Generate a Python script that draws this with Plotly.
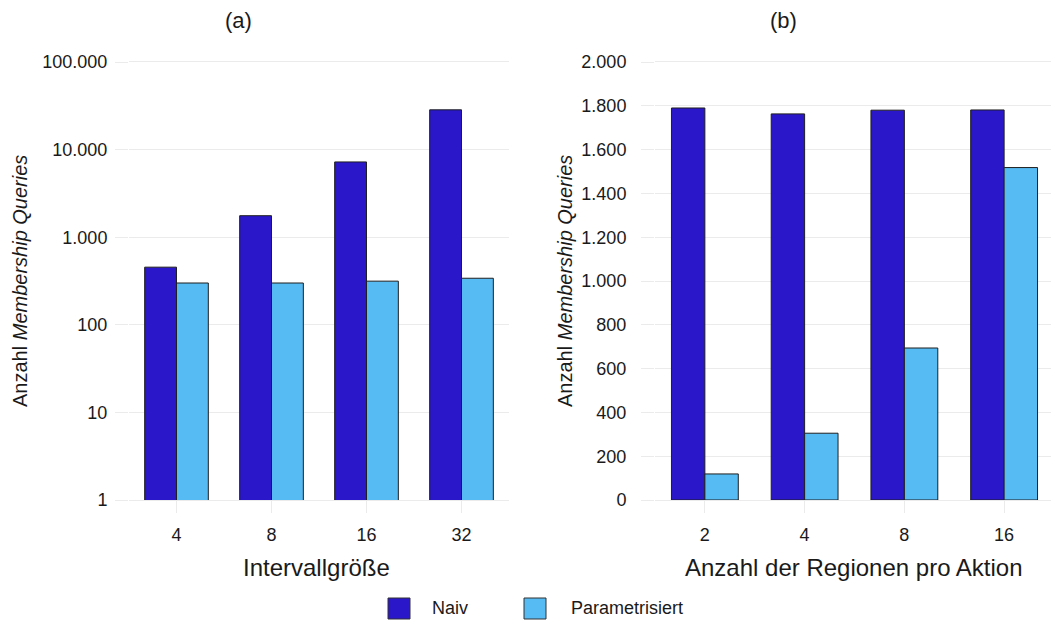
import plotly.graph_objects as go

# ---------------- data ----------------
cats_a = ["4", "8", "16", "32"]
naiv_a = [455, 1760, 7230, 28450]
param_a = [300, 300, 315, 340]

cats_b = ["2", "4", "8", "16"]
naiv_b = [1790, 1763, 1780, 1781]
param_b = [119, 305, 694, 1518]

yticks_a = [1, 10, 100, 1000, 10000, 100000]
yticklabels_a = ["1", "10", "100", "1.000", "10.000", "100.000"]
yticks_b = [0, 200, 400, 600, 800, 1000, 1200, 1400, 1600, 1800, 2000]
yticklabels_b = ["0", "200", "400", "600", "800", "1.000", "1.200", "1.400", "1.600", "1.800", "2.000"]

series_names = ["Naiv", "Parametrisiert"]
colors = ["#2A17C9", "#56BAF3"]

W, H = 1051, 621
FONT = "Liberation Sans, Arial, Helvetica, sans-serif"
GRID = "#EBEBEB"
TXT = "#1a1a1a"


def px(x):
    return x / W


def py(y):
    return (H - y) / H


fig = go.Figure()
for cats, vals, name, col, xa, ya in [
    (cats_a, naiv_a, series_names[0], colors[0], "x", "y"),
    (cats_a, param_a, series_names[1], colors[1], "x", "y"),
    (cats_b, naiv_b, series_names[0], colors[0], "x2", "y2"),
    (cats_b, param_b, series_names[1], colors[1], "x2", "y2"),
]:
    fig.add_trace(go.Bar(x=cats, y=vals, name=name, marker=dict(color=col, line=dict(color="#1f1f1f", width=1)),
                         xaxis=xa, yaxis=ya, showlegend=False))

ydom = [py(500), py(62)]
xcommon = dict(type="category", showgrid=False, zeroline=False, showline=True, linecolor=GRID, linewidth=1,
               mirror=True, ticks="outside", ticklen=12, tickcolor=GRID, tickwidth=1, automargin=False,
               tickfont=dict(family=FONT, size=18, color=TXT), ticklabelstandoff=6)
ycommon = dict(showgrid=True, gridcolor=GRID, gridwidth=1, zeroline=False, showline=False, automargin=False,
               ticks="outside", ticklen=13, tickcolor=GRID, tickwidth=1,
               tickfont=dict(family=FONT, size=18, color=TXT))

fig.update_layout(
    width=W, height=H,
    margin=dict(l=0, r=0, t=0, b=0, pad=0, autoexpand=False),
    paper_bgcolor="white", plot_bgcolor="white",
    barmode="group", bargap=0.33, bargroupgap=0,
    font=dict(family=FONT, color=TXT),
    xaxis=dict(domain=[px(129), px(509)], range=[-0.5, 3.5], anchor="y", **xcommon),
    yaxis=dict(domain=ydom, type="log", range=[0, 5], tickvals=yticks_a, ticktext=yticklabels_a,
               anchor="x", ticklabelstandoff=4, **ycommon),
    xaxis2=dict(domain=[px(655), 1.0], range=[-0.5, 3.47], anchor="y2", **xcommon),
    yaxis2=dict(domain=ydom, range=[0, 2000], tickvals=yticks_b, ticktext=yticklabels_b,
                anchor="x2", ticklabelstandoff=11, **ycommon),
)

ann = []
ann.append(dict(text="(a)", x=px(238.5), y=py(20), xref="paper", yref="paper", showarrow=False,
                xanchor="center", yanchor="middle", font=dict(family=FONT, size=22, color=TXT)))
ann.append(dict(text="(b)", x=px(783), y=py(20), xref="paper", yref="paper", showarrow=False,
                xanchor="center", yanchor="middle", font=dict(family=FONT, size=22, color=TXT)))
ann.append(dict(text="Intervallgröße", x=px(316), y=py(567), xref="paper", yref="paper", showarrow=False,
                xanchor="center", yanchor="middle", font=dict(family=FONT, size=24, color=TXT)))
ann.append(dict(text="Anzahl der Regionen pro Aktion", x=px(854), y=py(567), xref="paper", yref="paper", showarrow=False,
                xanchor="center", yanchor="middle", font=dict(family=FONT, size=24, color=TXT)))
for xc in (20, 565):
    ann.append(dict(text="Anzahl <i>Membership Queries</i>", x=px(xc), y=py(281), xref="paper", yref="paper",
                    showarrow=False, textangle=-90, xanchor="center", yanchor="middle",
                    font=dict(family=FONT, size=20, color=TXT)))

# legend keys and labels
shapes = []
legend_keys = [(388, 410, 430), (524, 546, 569)]
for (x0, x1, tx), name, col in zip(legend_keys, series_names, colors):
    shapes.append(dict(type="rect", xref="paper", yref="paper", x0=px(x0), x1=px(x1), y0=py(619), y1=py(598),
                       fillcolor=col, line=dict(color="#333333", width=1)))
    ann.append(dict(text=name, x=px(tx), y=py(608), xref="paper", yref="paper", showarrow=False,
                    xanchor="left", yanchor="middle", font=dict(family=FONT, size=18, color=TXT)))

fig.update_layout(annotations=ann, shapes=shapes)

# remove the default page margin so the figure fills the window exactly
post = """
document.documentElement.style.margin = '0';
document.documentElement.style.padding = '0';
document.documentElement.style.overflow = 'hidden';
document.body.style.margin = '0';
document.body.style.padding = '0';
document.body.style.overflow = 'hidden';
"""

fig.write_html("out.html", post_script=post, config={"displayModeBar": False})
